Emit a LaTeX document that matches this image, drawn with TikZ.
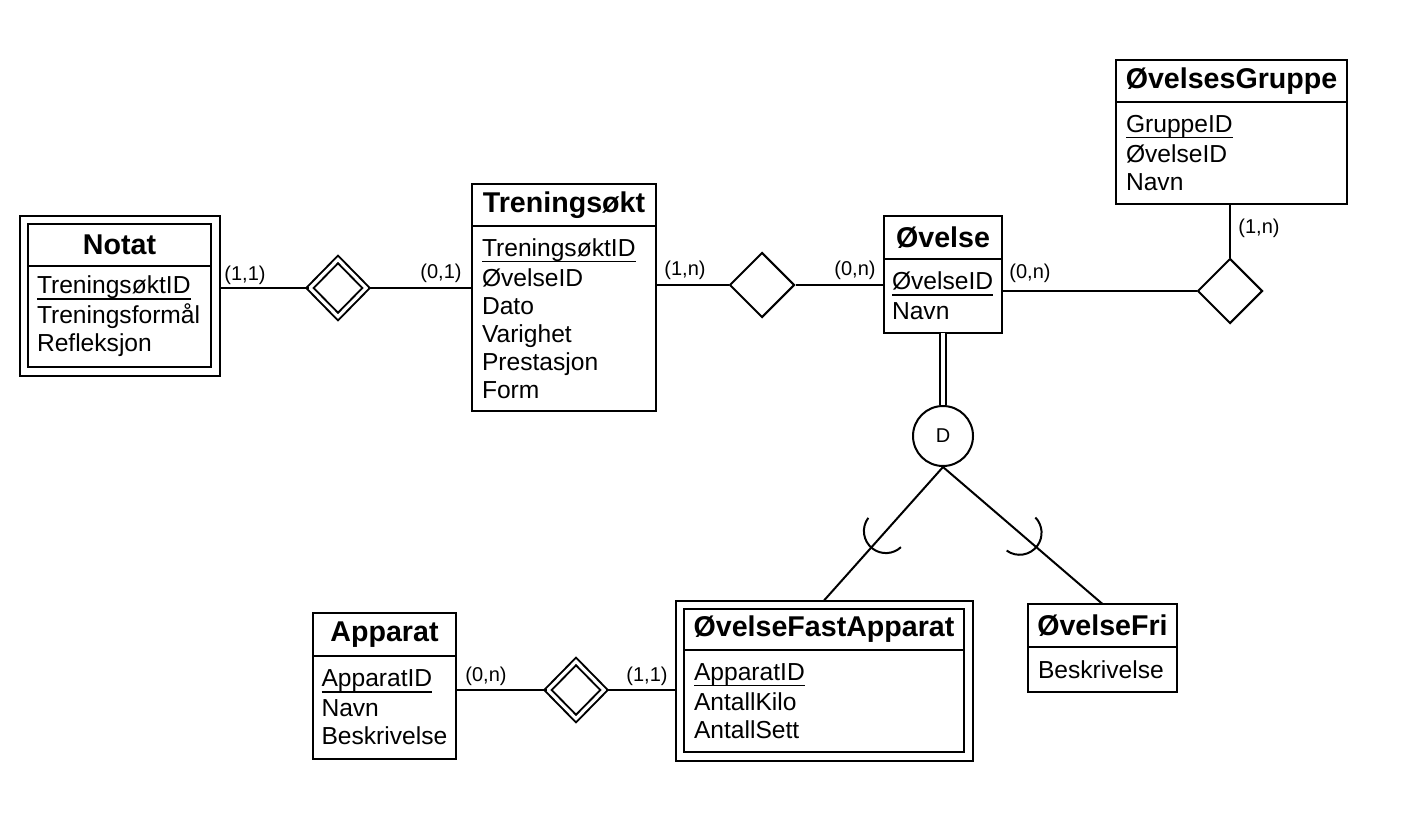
\documentclass[tikz,border=0pt]{standalone}
\usepackage{fontspec}
\setmainfont{Liberation Sans}
\usetikzlibrary{shapes.geometric,fit}
\newcommand{\pkey}[1]{\setbox0=\hbox{#1}\rlap{\rule[-2.9pt]{\wd0}{0.7pt}}\box0}

\begin{document}
\begin{tikzpicture}[x=0.5pt,y=-0.5pt,line width=1pt,
  ehead/.style={draw,anchor=north west,inner sep=0pt,outer sep=0pt,font=\bfseries\fontsize{14.3}{16}\selectfont},
  eattr/.style={draw,anchor=north west,align=left,inner xsep=5pt,inner ysep=0pt,outer sep=0pt,font=\fontsize{12.3}{14}\selectfont},
  weak/.style={draw,inner sep=4.25pt,outer sep=0pt},
  rel/.style={diamond,draw,inner sep=0pt,minimum width=32.5pt,minimum height=32.5pt},
  wrel/.style={rel,double,double distance=1.6pt,minimum width=28.5pt,minimum height=29pt},
  card/.style={inner sep=0pt,font=\fontsize{10}{12}\selectfont}]
\useasboundingbox (0,0) rectangle (1416,814);

\node[ehead,minimum width=91.5pt,minimum height=21pt] (notat) at (28,224) {Notat};
\node[eattr,text width=82.5pt,inner xsep=4.5pt,minimum height=50.5pt] (notatattr) at (notat.south west) {\pkey{TreningsøktID}\\[1pt]Treningsformål\\Refleksjon};
\node[weak,fit=(notat)(notatattr)] (notatbox) {};

\node[ehead,minimum width=92pt,minimum height=21pt] (tren) at (472,184) {Treningsøkt};
\node[eattr,text width=82pt,minimum height=92.5pt] (trenattr) at (tren.south west) {\pkey{TreningsøktID}\\[1pt]ØvelseID\\Dato\\Varighet\\Prestasjon\\Form};

\node[ehead,minimum width=59pt,minimum height=21.5pt] (ovelse) at (884,216) {Øvelse};
\node[eattr,text width=51pt,inner xsep=4pt,minimum height=37pt] (ovelseattr) at (ovelse.south west) {\pkey{ØvelseID}\\[1pt]Navn};

\node[ehead,minimum width=115.5pt,minimum height=21pt] (gruppe) at (1116,60) {ØvelsesGruppe};
\node[eattr,text width=105.5pt,minimum height=51pt] (gruppeattr) at (gruppe.south west) {\pkey{GruppeID}\\[1pt]ØvelseID\\Navn};

\node[ehead,minimum width=140pt,minimum height=20.5pt] (fast) at (684,609) {ØvelseFastApparat};
\node[eattr,text width=130pt,minimum height=51pt] (fastattr) at (fast.south west) {\pkey{ApparatID}\\[1pt]AntallKilo\\AntallSett};
\node[weak,fit=(fast)(fastattr)] (fastbox) {};

\node[ehead,minimum width=74.5pt,minimum height=21.5pt] (fri) at (1028,604) {ØvelseFri};
\node[eattr,text width=64.5pt,minimum height=22.5pt] (friattr) at (fri.south west) {Beskrivelse};

\node[ehead,minimum width=71.5pt,minimum height=21.5pt] (apparat) at (313,613) {Apparat};
\node[eattr,text width=63pt,inner xsep=4.25pt,minimum height=51.5pt] (apparatattr) at (apparat.south west) {\pkey{ApparatID}\\[1pt]Navn\\Beskrivelse};

% relasjoner
\node[wrel] (harnotat) at (338,288) {};
\node[rel] (utfort) at (762,285) {};
\node[rel] (igruppe) at (1230,291) {};
\node[wrel] (bruker) at (576,690) {};
\node[circle,draw,minimum size=30pt,inner sep=0pt,font=\fontsize{10}{12}\selectfont] (disj) at (943,436) {D};

\draw (notatbox.east |- harnotat) -- (harnotat) -- (harnotat -| trenattr.west);
\draw (trenattr.east |- utfort) -- (utfort) -- (utfort -| ovelseattr.west);
\draw (ovelseattr.east |- igruppe) -- (igruppe) -- (gruppeattr.south -| igruppe);
\draw (apparatattr.east |- bruker) -- (bruker) -- (bruker -| fastbox.west);

% spesialisering
\draw[double,double distance=2.25pt] (ovelseattr.south) -- (disj);
\draw (disj.south) -- coordinate[pos=0.48] (sub1) (fastbox.north);
\draw (disj.south) -- coordinate[pos=0.48] (sub2) (fri.north);
\draw (sub1) ++(143:11pt) arc[start angle=143,end angle=313,radius=11pt];
\draw (sub2) ++(-126:11pt) arc[start angle=-126,end angle=44,radius=11pt];

\node[card] (k1) at (245,275) {(1,1)};
\node[card] (k2) at (441,273) {(0,1)};
\node[card] (k3) at (685,270) {(1,n)};
\node[card] (k4) at (855,270) {(0,n)};
\node[card] (k5) at (1030,273) {(0,n)};
\node[card] (k6) at (1259,228) {(1,n)};
\node[card] (k7) at (486,676) {(0,n)};
\node[card] (k8) at (647,676) {(1,1)};
\end{tikzpicture}
\end{document}
